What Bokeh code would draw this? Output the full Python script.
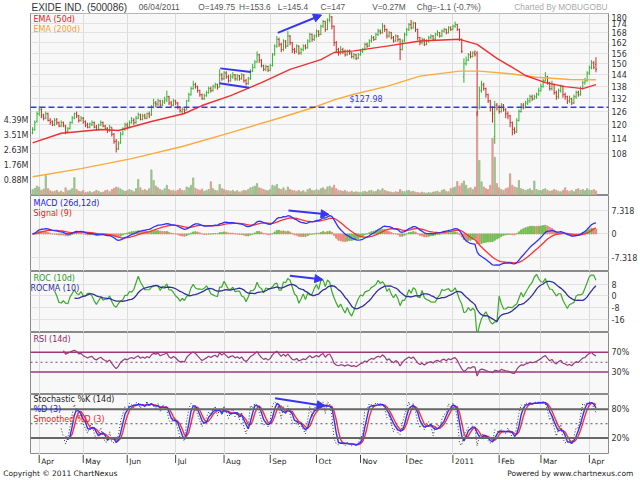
import numpy as np
import pandas as pd
from bokeh.plotting import figure
from bokeh.layouts import column
from bokeh.models import (Range1d, LinearAxis, LinearScale, FixedTicker, ColumnDataSource,
                          Span, Label, Arrow, NormalHead, CustomJSTickFormatter)
from bokeh.core.properties import value
from bokeh.embed import file_html
from bokeh.resources import INLINE

# ---------------- data ----------------
month_labels = ["Apr", "May", "Jun", "Jul", "Aug", "Sep", "Oct", "Nov", "Dec", "2011", "Feb", "Mar", "Apr"]
month_start = [3, 23, 43, 65, 87, 108, 129, 149, 170, 191, 212, 231, 253]

closes = [
    118, 121, 125, 127, 124, 123, 125, 122, 121, 120,
    122, 121, 119.5, 121, 120, 117, 118.5, 121, 123, 125,
    124, 122, 123, 121, 120, 119, 120.5, 121, 119, 118,
    120, 121, 119.5, 118.5, 117.5, 119, 116, 113, 110, 112,
    116, 118, 120, 119, 121, 122, 121, 123, 124.5, 122.5,
    124, 123, 125, 124, 128, 130, 129.5, 131, 129, 130.5,
    131.5, 133, 130, 129, 131, 130, 128, 126.5, 127, 126.5,
    131, 134, 137, 139, 138, 136, 134, 132, 133.5, 135,
    137, 136, 138, 139, 137.5, 144, 142, 145, 143, 141,
    143, 144, 142, 143.5, 142, 144, 141, 139.5, 142, 146,
    148, 151, 155, 152, 149, 147, 148.5, 146.5, 149, 155,
    160, 164, 161, 158, 163, 160, 166, 162, 158, 157,
    160, 156, 158, 160, 159, 163, 167, 164, 166, 169,
    167, 172, 175, 170, 176, 178, 172, 162, 158, 156,
    158, 157, 155, 157, 156, 154, 155, 153, 155, 157,
    158, 161, 160, 163, 165, 164, 167, 169, 168, 172,
    170, 166, 168, 165, 163, 166, 164, 158, 163, 167,
    170, 173, 171, 174, 170, 165, 162, 164, 161, 163,
    165, 166, 164, 167, 168, 166, 169, 170, 168, 171,
    170, 172, 173, 170, 164, 157, 150, 152, 155, 154,
    156, 155, 126, 136, 139, 137, 134, 131, 128, 125,
    129, 128, 126, 129, 127, 125, 124, 121, 118, 117,
    122, 126, 129, 128, 130, 131, 133, 132, 133, 134,
    136, 138, 141, 143, 140, 137, 139, 135, 133, 136,
    138, 134, 133, 131, 132, 130, 133, 135, 134, 137,
    140, 141, 145, 148, 150.5, 148.1, 147]

opens = [
    116.5, 118, 121.5, 125, 127, 124.5, 123, 125, 122, 121.5,
    120, 122.5, 121, 119.5, 121, 119.5, 117, 118.5, 121, 123,
    125, 124, 122, 123, 121.5, 120, 119, 120, 121, 119,
    118, 120, 121, 119.5, 118.5, 117.5, 119, 116, 113, 110,
    112.5, 116, 118, 120, 119, 121, 122, 121, 123, 124.5,
    122.5, 124, 123, 125, 124.5, 128, 130, 129.5, 131, 129,
    130.5, 131, 133, 130, 129, 131, 130, 128, 126, 127,
    127, 131, 134, 137, 139, 138, 136, 134, 132, 133.5,
    135, 137, 136, 138, 139, 138, 144, 142, 145, 143,
    141, 143, 144, 142, 143.5, 142, 144, 141, 139.5, 142,
    146, 148, 151, 155, 152, 149, 147, 148.5, 146.5, 149,
    155, 160, 164, 161, 158, 163, 160, 166, 162, 158,
    157, 160, 156, 158, 160, 159, 163, 167, 164, 166,
    169, 167, 172, 175, 170, 176, 178, 172, 162, 158,
    156, 158, 157, 155, 157, 156, 154, 155, 153, 155,
    157, 158, 161, 160, 163, 165, 164, 167, 169, 168,
    172, 170, 166, 168, 165, 163, 166, 164, 158, 163,
    167, 170, 173, 171, 174, 170, 165, 162, 164, 161,
    163, 165, 166, 164, 167, 168, 166, 169, 170, 168,
    171, 170, 172, 173, 170, 164, 143, 150, 152, 155,
    154, 156, 156, 128, 136, 139, 137, 134, 131, 128,
    115, 129, 128, 126, 129, 127, 125, 124, 121, 118,
    117, 122, 126, 129, 128, 130, 131, 133, 132, 133,
    134, 136, 138, 141, 143, 140, 137, 139, 135, 133,
    136, 138, 134, 133, 131, 132, 130, 133, 135, 134,
    137, 140, 141, 145, 148, 150.5, 149.75]

highs = [
    119, 122, 126, 128.5, 127.5, 125, 126, 125.5, 123, 122,
    123, 123, 121.5, 122, 121.5, 120, 119, 121.5, 124, 125.5,
    126, 124.5, 124, 123.5, 122, 121, 121, 122, 121.5, 120,
    120.5, 122, 121.5, 120, 119, 120, 119, 116.5, 114, 113,
    117, 119, 121, 121, 122, 123.5, 123, 124, 125.5, 125,
    125, 125, 125.5, 126, 129, 132, 131, 132, 131.5, 131.5,
    133, 136, 133.5, 131, 132, 131.5, 130.5, 128.5, 128, 127.5,
    131.5, 135, 138, 141, 140, 138.5, 136.5, 134.5, 134.5, 136,
    138, 138, 139, 140, 139.5, 147, 145, 146, 146, 144,
    144.5, 145.5, 144.5, 144.5, 144, 145, 144.5, 142, 143, 147,
    150, 152, 157, 155.5, 152.5, 149.5, 149.5, 149, 150, 156,
    161, 166, 165, 162, 164, 163.5, 169, 166.5, 162.5, 159,
    161, 160.5, 159, 161, 161, 164, 168, 167.5, 167, 170,
    169.5, 173, 176, 175.5, 177, 180, 178.5, 172.5, 163, 159,
    160, 159, 158, 158, 158, 156.5, 156, 155.5, 156, 158,
    159, 162, 162, 164, 166.5, 166, 168, 170.5, 170, 174,
    173, 170.5, 169, 168.5, 166, 167, 166.5, 164.5, 164, 168,
    171, 174, 176, 175, 174.5, 170.5, 165.5, 165, 164.5, 164,
    166, 167, 166.5, 168, 169.5, 168.5, 170, 171, 170.5, 172,
    172, 173, 175, 173.5, 170.5, 164.5, 153, 154, 156, 157,
    157, 157.5, 157, 138, 141, 140, 137.5, 134.5, 131.5, 128.5,
    131, 130, 129, 130, 129.5, 127.5, 126, 124.5, 121.5, 119,
    123, 127, 130, 130, 131, 132.5, 134, 134, 134, 135,
    137.5, 139.5, 142, 145.5, 143.5, 140.5, 141, 139.5, 136, 137,
    139, 138.5, 135, 133.5, 133.5, 132.5, 134, 136, 136, 138,
    141, 142.5, 146, 149, 152, 151.5, 153.6]

lows = [
    116, 117.5, 121, 124, 123, 122, 122.5, 121.5, 120, 119.5,
    119.5, 120, 119, 119, 119, 116, 116.5, 118, 120.5, 122.5,
    123, 121, 121.5, 120.5, 119, 118.5, 118.5, 119.5, 118.5, 117.5,
    117.5, 119.5, 119, 118, 116.5, 117, 115, 112, 108.5, 109.5,
    112, 115.5, 117.5, 118, 118.5, 120.5, 120, 120.5, 122.5, 122,
    122, 122.5, 122.5, 123, 124, 127.5, 128, 128.5, 128, 128.5,
    129.5, 130.5, 129, 128, 128.5, 129, 127, 125.5, 125, 125,
    126.5, 130.5, 133.5, 136.5, 137, 135, 133, 131.5, 131.5, 133,
    134.5, 135, 135.5, 137, 136.5, 137.5, 141, 141.5, 142, 140,
    140.5, 142, 141, 141, 141, 141.5, 140, 138.5, 139, 141.5,
    145.5, 147.5, 150.5, 150.5, 148, 146, 146, 145.5, 146, 148.5,
    154.5, 159, 159.5, 156.5, 157, 158.5, 159.5, 160.5, 156, 155.5,
    156, 155, 155, 157, 158, 158.5, 162, 162.5, 163, 165,
    165.5, 166.5, 171, 168.5, 169.5, 174.5, 170, 160, 156, 154.5,
    155, 155.5, 154, 154.5, 155, 153, 152.5, 152, 152.5, 154.5,
    156, 157.5, 159, 159.5, 162, 163, 163.5, 166, 167, 167.5,
    168.5, 164.5, 165, 164, 162, 162.5, 162.5, 152, 157.5, 162.5,
    166, 169, 170, 170.5, 168.5, 163.5, 160.5, 161, 160, 160.5,
    162, 164, 163, 163.5, 166, 165, 165.5, 168, 167, 167.5,
    169, 169.5, 171, 169, 163, 156, 140, 149, 151.5, 153,
    153.5, 154, 124, 127, 135, 136, 132.5, 130, 126, 121,
    112, 126.5, 125, 125.5, 126, 123, 122.5, 119, 115.5, 116,
    116.5, 121.5, 125.5, 127, 127.5, 129, 130, 131, 131.5, 132,
    133.5, 135.5, 137.5, 140.5, 139, 136, 136, 134, 131.5, 132,
    135, 132.5, 131.5, 129.5, 130, 129, 129.5, 132, 133, 133.5,
    136.5, 139, 140.5, 144, 147, 147, 145.4]

volumes_m = [
    0.35, 0.42, 0.55, 0.48, 0.30, 0.38, 1.17, 0.40, 0.28, 0.22,
    0.25, 0.30, 0.20, 0.26, 0.18, 0.45, 0.28, 0.32, 0.40, 1.05,
    0.35, 0.25, 0.22, 0.30, 0.18, 0.20, 0.24, 0.16, 0.22, 0.30,
    0.25, 0.18, 0.20, 0.28, 0.32, 0.22, 0.35, 0.42, 0.50, 0.45,
    0.38, 0.30, 0.25, 0.28, 0.35, 0.30, 0.22, 0.40, 0.94, 0.45,
    0.30, 0.35, 0.28, 0.40, 1.50, 0.88, 0.55, 0.45, 0.35, 0.30,
    0.40, 0.60, 0.35, 0.28, 0.30, 0.25, 0.32, 0.40, 0.30, 0.28,
    0.50, 0.45, 0.60, 1.03, 0.42, 0.35, 0.30, 0.38, 0.25, 0.30,
    0.35, 0.80, 0.40, 0.30, 0.28, 0.65, 0.40, 0.35, 0.30, 0.28,
    0.25, 0.30, 0.22, 0.28, 0.20, 0.25, 0.30, 0.28, 0.35, 0.45,
    0.50, 0.55, 0.70, 0.45, 0.40, 0.35, 0.30, 0.28, 0.35, 0.60,
    0.55, 0.65, 0.40, 0.35, 0.45, 0.30, 0.50, 0.35, 0.30, 0.28,
    0.25, 0.30, 0.22, 0.28, 0.20, 0.35, 0.40, 0.30, 0.28, 0.35,
    0.30, 0.40, 0.45, 0.35, 0.50, 0.55, 0.45, 0.60, 0.40, 0.30,
    0.28, 0.25, 0.30, 0.22, 0.20, 0.25, 0.18, 0.22, 0.20, 0.18,
    0.22, 0.25, 0.20, 0.28, 0.30, 0.22, 0.25, 0.35, 0.28, 0.40,
    0.30, 0.25, 0.22, 0.20, 0.18, 0.22, 0.20, 0.35, 0.25, 0.22,
    0.28, 0.30, 0.22, 0.25, 0.20, 0.18, 0.15, 0.20, 0.16, 0.14,
    0.18, 0.15, 0.20, 0.22, 0.25, 0.18, 0.30, 0.35, 0.25, 0.22,
    0.40, 0.45, 0.50, 0.82, 0.55, 0.70, 0.85, 0.60, 0.40, 0.45,
    0.35, 0.50, 4.87, 2.05, 0.80, 0.50, 0.40, 0.35, 0.60, 3.35,
    2.24, 0.70, 0.45, 0.35, 0.30, 0.40, 0.45, 1.27, 0.60, 0.50,
    0.45, 0.88, 0.40, 0.35, 0.30, 0.35, 0.40, 0.30, 0.85, 0.35,
    0.30, 0.28, 0.35, 0.40, 0.30, 0.25, 0.28, 0.35, 0.30, 0.25,
    0.22, 0.30, 0.45, 0.28, 0.25, 0.30, 0.22, 0.35, 0.40, 0.30,
    0.35, 0.28, 0.40, 0.32, 0.30, 0.35, 0.27]

ema50_idx = [0, 13, 31, 39, 54, 69, 77, 90, 104, 117, 131, 137, 146, 161, 176, 194, 202, 211, 218, 224, 233, 242, 250, 256]
ema50_val = [112.4, 116.4, 118.0, 117.6, 121.5, 125.1, 128.8, 133.5, 140.0, 147.0, 152.3, 156.3, 157.2, 160.0,
             163.0, 164.0, 161.0, 153.0, 148.0, 143.7, 140.0, 138.0, 137.0, 139.0]
ema200_idx = [0, 22, 45, 68, 90, 113, 128, 137, 146, 161, 176, 194, 203, 218, 229, 244, 256]
ema200_val = [99.3, 102.3, 106.1, 110.9, 116.7, 123.3, 128.0, 131.5, 134.2, 138.1, 143.4, 146.0, 146.0,
              144.5, 142.8, 141.6, 141.5]

price_ticks = [108, 114, 120, 126, 132, 138, 144, 150, 156, 162, 168, 174, 180]
vol_ticks = [0.8775, 1.755, 2.6325, 3.51, 4.3875]
vol_tick_labels = ["0.88M", "1.76M", "2.63M", "3.51M", "4.39M"]
macd_ticks = [-7.318, 0, 7.318]
macd_tick_labels = ["-7.318", "0", "7.318"]
roc_ticks = [-16, -8, 0, 8]
rsi_ticks = [30, 70]
stoch_ticks = [20, 80]
support_level = 127.98

# user-drawn annotations (index, value)
flag_x = [[85.3, 99.2], [84.9, 98.4]]
flag_y = [[147.5, 145.6], [139.7, 137.4]]
price_arrow = (111.4, 167.9, 131.3, 179.2)
macd_arrow = (116.3, 7.3, 134.7, 6.1)
roc_arrow = (116.9, 13.6, 131.9, 11.0)
stoch_arrow = (110.2, 103.0, 132.9, 87.0)

header_texts = ["EXIDE IND. (500086)", "06/04/2011", "O=149.75", "H=153.6", "L=145.4", "C=147",
                "V=0.27M", "Chg=-1.1 (-0.7%)"]
footer_texts = ["Copyright \u00a9 2011 ChartNexus", "Powered by www.chartnexus.com"]

# ---------------- indicators ----------------
N = len(closes)
idx = np.arange(N)
c = pd.Series(closes, dtype=float)
hi = pd.Series(highs, dtype=float)
lo = pd.Series(lows, dtype=float)

macd = c.ewm(span=12, adjust=False).mean() - c.ewm(span=26, adjust=False).mean()
signal = macd.ewm(span=9, adjust=False).mean()
hist = macd - signal

roc = 100 * (c / c.shift(10) - 1)
rocma = roc.rolling(10).mean()

delta = c.diff()
gain = delta.clip(lower=0)
loss = -delta.clip(upper=0)
ag = gain.ewm(alpha=1 / 14, adjust=False, min_periods=14).mean()
al = loss.ewm(alpha=1 / 14, adjust=False, min_periods=14).mean()
rsi = 100 - 100 / (1 + ag / al)

ll = lo.rolling(14).min()
hh = hi.rolling(14).max()
pk = 100 * (c - ll) / (hh - ll)
pd3 = pk.rolling(3).mean()
spd3 = pd3.rolling(3).mean()

up = np.array(closes) >= np.array(opens)
GREEN, RED, BLUE = "#2fb52f", "#cc2a2a", "#3636f0"
FONT = "DejaVu Sans"

# ---------------- layout ----------------
LEFT, RIGHT, W = 28, 30, 640
xr = Range1d(-0.95, 261.7)
px_per = (W - LEFT - RIGHT) / (xr.end - xr.start)


def style_blank(p):
    p.outline_line_color = None
    p.grid.visible = False
    p.background_fill_color = "white"
    p.border_fill_color = "white"


def make_panel(height, y_range, ticks, labels, log=False):
    p = figure(width=W, height=height, x_range=xr, y_range=y_range,
               y_axis_type="log" if log else "linear", y_axis_location="right",
               x_axis_location=None, output_backend="svg", toolbar_location=None,
               min_border_left=LEFT, min_border_right=RIGHT, min_border_top=0,
               min_border_bottom=0)
    p.background_fill_color = "#f8f8f8"
    p.border_fill_color = "white"
    p.outline_line_color = "#8a8a8a"
    ax = p.yaxis[0]
    ax.ticker = FixedTicker(ticks=ticks)
    ax.major_label_overrides = dict(zip(ticks, labels))
    ax.major_tick_line_color = None
    ax.minor_tick_line_color = None
    ax.major_tick_out = 0
    ax.major_tick_in = 0
    ax.axis_line_color = None
    ax.major_label_standoff = 3
    ax.major_label_text_font = FONT
    ax.major_label_text_font_size = "8px"
    ax.major_label_text_color = "#333333"
    p.xgrid.ticker = FixedTicker(ticks=month_start)
    p.xgrid.grid_line_color = "#dcdcdc"
    p.ygrid.grid_line_color = "#e2e2e2"
    return p


def legend(p, fh, x, y_from_top, text, color):
    p.add_layout(Label(x=x, y=fh - y_from_top, x_units="screen", y_units="screen", text=text,
                       text_color=color, text_font=FONT, text_font_size="8px",
                       text_baseline="middle"))


# ---- header row (its frame spans the same pixels 28..610 as the panels) ----
ph = figure(width=W, height=13, x_range=Range1d(LEFT, W - RIGHT), y_range=Range1d(0, 13),
            min_border_left=LEFT, min_border_right=RIGHT, min_border_top=0, min_border_bottom=0,
            x_axis_location=None, y_axis_location=None, output_backend="svg",
            toolbar_location=None)
style_blank(ph)
hx = [29, 137, 197, 238, 277, 320, 372, 417]
ph.text(x=hx[:1], y=6.5, text=header_texts[:1], text_color="#333333",
        text_font=value("Liberation Sans"), text_font_size=value("10px"),
        text_baseline=value("middle"))
ph.text(x=hx[1:], y=6.5, text=header_texts[1:], text_color="#555555",
        text_font=value("Liberation Sans"), text_font_size=value("8.3px"),
        text_baseline=value("middle"))
ph.text(x=[609], y=6.5, text=["Charted By MOBUGOBU"], text_color="#aaaaaa",
        text_font=value("Liberation Sans"), text_font_size=value("8.3px"),
        text_baseline=value("middle"), text_align=value("right"))

# ---- price panel ----
p1 = make_panel(182, Range1d(92.75, 180.2), price_ticks, [str(t) for t in price_ticks], log=True)
p1.extra_y_ranges = {"vol": Range1d(0, 10.65)}
p1.extra_y_scales = {"vol": LinearScale()}
vax = LinearAxis(y_range_name="vol", ticker=FixedTicker(ticks=vol_ticks),
                 major_label_overrides=dict(zip(vol_ticks, vol_tick_labels)),
                 major_tick_line_color=None, minor_tick_line_color=None, axis_line_color=None,
                 major_tick_out=0, major_tick_in=0,
                 major_label_standoff=2, major_label_text_font=FONT,
                 major_label_text_font_size="8px", major_label_text_color="#333333")
p1.add_layout(vax, "left")

vsrc = ColumnDataSource(dict(x=idx, v=volumes_m,
                             col=["#9fbf8f" if u else "#d9a094" for u in up]))
p1.vbar(x="x", top="v", bottom=0, width=0.55, color="col", source=vsrc, y_range_name="vol")

csrc = ColumnDataSource(dict(x=idx, o=opens, h=highs, l=lows, c=closes,
                             xl=idx - 0.42, xr=idx + 0.42,
                             col=[GREEN if u else RED for u in up]))
p1.segment(x0="x", y0="l", x1="x", y1="h", color="col", line_width=1, source=csrc)
p1.segment(x0="xl", y0="o", x1="x", y1="o", color="col", line_width=1, source=csrc)
p1.segment(x0="x", y0="c", x1="xr", y1="c", color="col", line_width=1, source=csrc)

p1.line(ema200_idx, ema200_val, color="#fbaa3c", line_width=1.4)
p1.line(ema50_idx, ema50_val, color="#ee3030", line_width=1.4)
p1.add_layout(Span(location=support_level, dimension="width", line_color=BLUE,
                   line_dash="6 3", line_width=1.6))
p1.add_layout(Label(x=144, y=support_level, y_offset=3, text="$%.2f" % support_level,
                    text_color=BLUE, text_font=FONT, text_font_size="8px", text_baseline="bottom"))
p1.multi_line(flag_x, flag_y, color=BLUE, line_width=2)
p1.add_layout(Arrow(end=NormalHead(size=8, fill_color=BLUE, line_color=BLUE),
                    x_start=price_arrow[0], y_start=price_arrow[1], x_end=price_arrow[2],
                    y_end=price_arrow[3], line_color=BLUE, line_width=2))
legend(p1, 182, 3, 5.5, "EMA (50d)", "#e82020")
legend(p1, 182, 3, 15.5, "EMA (200d)", "#f5a030")

# ---- MACD panel ----
p2 = make_panel(76, Range1d(-11.75, 12.03), macd_ticks, macd_tick_labels)
hcol = ["#78bb55" if (i > 0 and hist[i] >= hist[i - 1]) else "#e88a7c" for i in range(N)]
hsrc = ColumnDataSource(dict(x=idx, h=hist.values, col=hcol))
p2.vbar(x="x", top="h", bottom=0, width=0.6, color="col", source=hsrc)
p2.line(idx, signal.values, color="#ff3030", line_width=1.3)
p2.line(idx, macd.values, color="#3030ff", line_width=1.3)
p2.add_layout(Arrow(end=NormalHead(size=8, fill_color=BLUE, line_color=BLUE),
                    x_start=macd_arrow[0], y_start=macd_arrow[1], x_end=macd_arrow[2],
                    y_end=macd_arrow[3], line_color=BLUE, line_width=2))
legend(p2, 76, 3, 7.5, "MACD (26d,12d)", "#2020ee")
legend(p2, 76, 3, 17.5, "Signal (9)", "#ee2020")

# ---- ROC panel ----
p3 = make_panel(61, Range1d(-24.5, 16.4), roc_ticks, [str(t) for t in roc_ticks])
p3.line(idx, roc.values, color="#3aaa2a", line_width=1.2)
p3.line(idx, rocma.values, color="#30309a", line_width=1.3)
p3.add_layout(Arrow(end=NormalHead(size=8, fill_color=BLUE, line_color=BLUE),
                    x_start=roc_arrow[0], y_start=roc_arrow[1], x_end=roc_arrow[2],
                    y_end=roc_arrow[3], line_color=BLUE, line_width=2))
legend(p3, 61, 3, 6.5, "ROC (10d)", "#2a9a2a")
legend(p3, 61, 0, 16.5, "ROCMA (10)", "#30309a")

# ---- RSI panel ----
p4 = make_panel(62, Range1d(-15.3, 110.2), rsi_ticks, ["30%", "70%"])
p4.ygrid.grid_line_color = None
for lv in rsi_ticks:
    p4.add_layout(Span(location=lv, dimension="width", line_color="#9a3a7a", line_width=1.5))
p4.add_layout(Span(location=50, dimension="width", line_color="#9a3a7a", line_width=1.2,
                   line_dash="2 3"))
p4.line(idx, rsi.values, color="#9a3a7a", line_width=1.2)
legend(p4, 62, 3, 7, "RSI (14d)", "#8a2a6a")

# ---- Stochastic panel ----
p5 = make_panel(60, Range1d(-14.2, 111), stoch_ticks, ["20%", "80%"])
p5.ygrid.grid_line_color = None
for lv in stoch_ticks:
    p5.add_layout(Span(location=lv, dimension="width", line_color="#666666", line_width=2))
p5.add_layout(Span(location=50, dimension="width", line_color="#555555", line_width=1,
                   line_dash="2 3"))
p5.line(idx, pk.values, color="#333333", line_width=1, line_dash="1 2")
p5.line(idx, spd3.values, color="#ff3030", line_width=1.4)
p5.line(idx, pd3.values, color="#3030ff", line_width=1.4)
p5.add_layout(Arrow(end=NormalHead(size=8, fill_color=BLUE, line_color=BLUE),
                    x_start=stoch_arrow[0], y_start=stoch_arrow[1], x_end=stoch_arrow[2],
                    y_end=stoch_arrow[3], line_color=BLUE, line_width=2))
legend(p5, 60, 3, 5, "Stochastic %K (14d)", "#222222")
legend(p5, 60, 3, 15.3, "%D (3)", "#2020ee")
legend(p5, 60, 3, 25.3, "Smoothed %D (3)", "#ee2020")

# ---- footer: month ticks + labels in a 13px frame, credits on an axis below ----
pf = figure(width=W, height=26, x_range=xr, y_range=Range1d(0, 13),
            min_border_left=LEFT, min_border_right=RIGHT, min_border_top=0, min_border_bottom=13,
            x_axis_location=None, y_axis_location=None, output_backend="svg",
            toolbar_location=None)
style_blank(pf)
pf.segment(x0=month_start, y0=13, x1=month_start, y1=3, color="#444444", line_width=1)
pf.text(x=month_start, y=5, text=month_labels, x_offset=2, text_color="#222222",
        text_font=value(FONT), text_font_size=value("7.5px"), text_baseline=value("middle"))
foot_centers_px = [58, 571.5]
foot_ticks = [xr.start + (px - LEFT) / px_per for px in foot_centers_px]
fax = LinearAxis(ticker=FixedTicker(ticks=foot_ticks),
                 formatter=CustomJSTickFormatter(args=dict(labels=footer_texts),
                                                 code="return labels[index]"),
                 major_tick_line_color=None, minor_tick_line_color=None, axis_line_color=None,
                 major_tick_out=0, major_tick_in=0,
                 major_label_standoff=3, major_label_text_font=FONT,
                 major_label_text_font_size="7.5px", major_label_text_color="#222222")
pf.add_layout(fax, "below")

layout = column(ph, p1, p2, p3, p4, p5, pf, spacing=0)
open("out.html", "w").write(file_html(layout, INLINE))
